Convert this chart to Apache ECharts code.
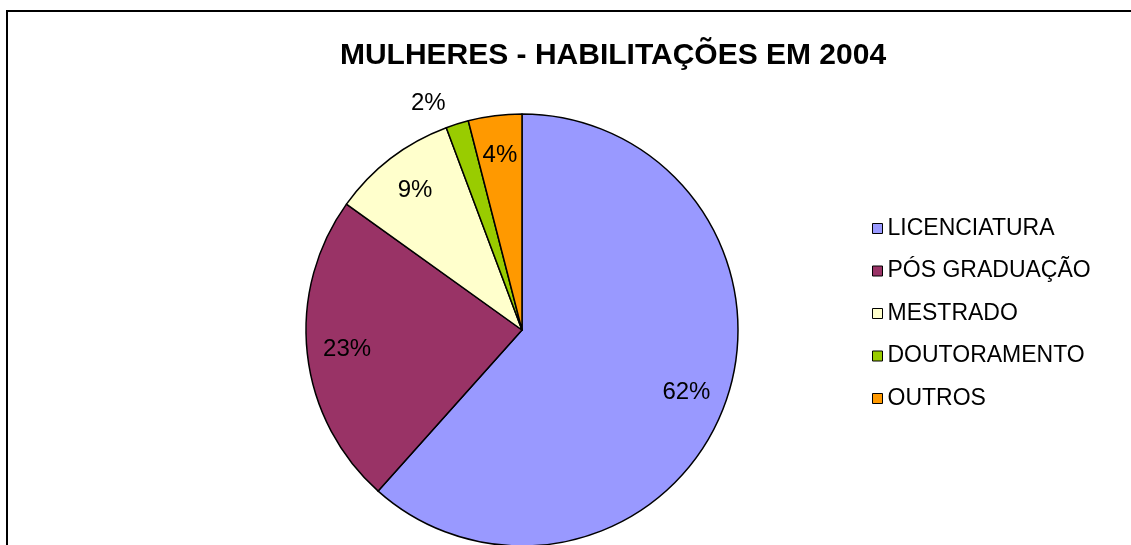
<!DOCTYPE html>
<html>
<head>
<meta charset="utf-8">
<title>Mulheres - Habilitações em 2004</title>
<script src="https://cdn.jsdelivr.net/npm/echarts@6/dist/echarts.min.js"></script>
<style>
    html, body {margin: 0; padding: 0; background: #fff;}
    #main {width: 1131px; height: 545px;}
</style>
</head>
<body>
<div id="main"></div>
<script>
var categories = ['LICENCIATURA', 'PÓS GRADUAÇÃO', 'MESTRADO', 'DOUTORAMENTO', 'OUTROS'];
var values = [61.6, 23.3, 9.4, 1.7, 4.0];
var colors = ['#9999FF', '#993366', '#FFFFCC', '#99CC00', '#FF9900'];

var font = "'Liberation Sans', Arial, sans-serif";

var sliceData = [];
var labelData = [];
for (var i = 0; i < categories.length; i++) {
    sliceData.push({name: categories[i], value: values[i], itemStyle: {color: colors[i]}});
    var item = {name: categories[i], value: values[i]};
    // the tiny slice gets its label outside, like the original
    if (values[i] < 3) {
        item.label = {position: 'outside'};
        item.labelLine = {show: false, length: 22, length2: 0};
    }
    labelData.push(item);
}

var chart = echarts.init(document.getElementById('main'));
chart.setOption({
    animation: false,
    color: colors,
    title: {
        text: 'MULHERES - HABILITAÇÕES EM 2004',
        left: 608,
        textAlign: 'center',
        top: 36,
        textStyle: {fontFamily: font, fontSize: 30, fontWeight: 'bold', color: '#000'}
    },
    legend: {
        orient: 'vertical',
        left: 867,
        top: 212,
        itemWidth: 10,
        itemHeight: 10,
        itemGap: 19.5,
        icon: 'rect',
        data: categories,
        itemStyle: {borderColor: '#000', borderWidth: 1},
        textStyle: {fontFamily: font, fontSize: 23, lineHeight: 23, color: '#000'}
    },
    graphic: [{
        type: 'rect',
        shape: {x: 7, y: 11, width: 1200, height: 600},
        style: {fill: 'none', stroke: '#000', lineWidth: 2}
    }],
    series: [
        {
            type: 'pie',
            center: [522, 330],
            radius: [0, 216],
            startAngle: 90,
            label: {show: false},
            labelLine: {show: false},
            itemStyle: {borderColor: '#000', borderWidth: 1.5},
            emphasis: {disabled: true},
            data: sliceData
        },
        {
            type: 'pie',
            center: [522, 330],
            radius: [130, 216],
            startAngle: 90,
            silent: true,
            itemStyle: {color: 'rgba(0,0,0,0)', borderWidth: 0},
            label: {
                show: true,
                position: 'inside',
                fontFamily: font,
                fontSize: 24,
                color: '#000',
                formatter: function (p) {
                    return Math.round(p.percent) + '%';
                }
            },
            emphasis: {disabled: true},
            data: labelData
        }
    ]
});
</script>
</body>
</html>
